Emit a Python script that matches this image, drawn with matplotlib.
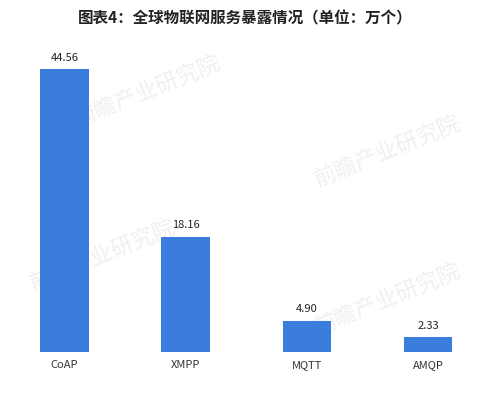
import matplotlib.pyplot as plt

plt.rcParams['font.family'] = ['Noto Sans CJK SC', 'DejaVu Sans']

categories = ['CoAP', 'XMPP', 'MQTT', 'AMQP']
values = [44.56, 18.16, 4.90, 2.33]
title = '图表4：全球物联网服务暴露情况（单位：万个）'
watermark = '前瞻产业研究院'

fig = plt.figure(figsize=(4.91, 3.99), dpi=100)
fig.patch.set_facecolor('white')

# faint watermarks behind the chart
for wx, wy in [(0.30, 0.77), (0.79, 0.62), (0.21, 0.36), (0.79, 0.25)]:
    fig.text(wx, wy, watermark, fontsize=16, color='#f0f0f0', rotation=22,
             ha='center', va='center', zorder=0)

ax = fig.add_axes([0.008, 0.118, 0.987, 0.732])
ax.set_zorder(1)
ax.patch.set_alpha(0)
x = range(len(categories))
bars = ax.bar(x, values, width=0.4, color='#3b7ddd', zorder=2)
ax.set_xlim(-0.5, 3.5)
ax.set_ylim(0, 46)

for b, v in zip(bars, values):
    ax.text(b.get_x() + b.get_width() / 2, v + 1.0, f'{v:.2f}',
            ha='center', va='bottom', fontsize=8, color='#222222')

ax.set_xticks(list(x))
ax.set_xticklabels(categories, fontsize=8, color='#333333')
ax.tick_params(axis='x', length=0, pad=6)
ax.set_yticks([])
for s in ax.spines.values():
    s.set_visible(False)

fig.text(0.5, 0.955, title, ha='center', va='center', fontsize=11.2,
         fontweight='bold', color='#222222')

plt.savefig('out.png', dpi=100)
